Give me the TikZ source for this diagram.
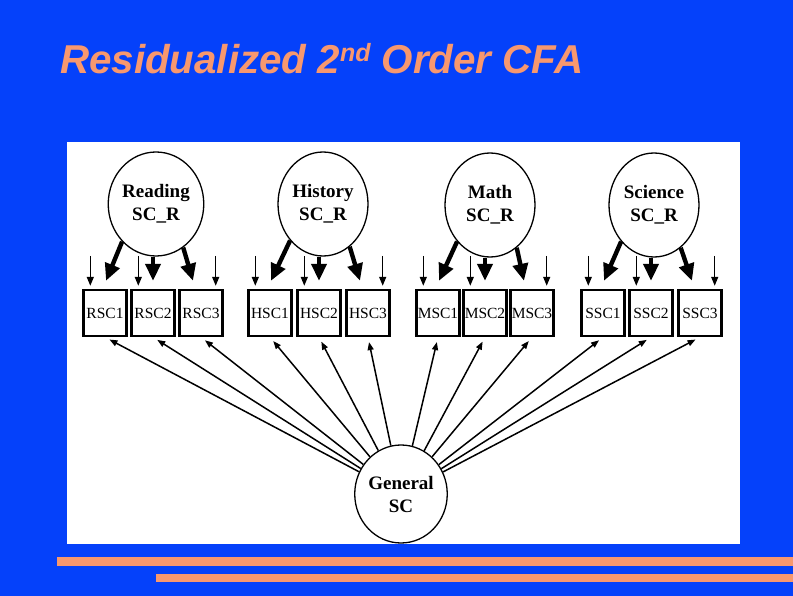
\documentclass[tikz,border=0pt]{standalone}
\usepackage{fontspec}
\setmainfont{Liberation Serif}
\newfontfamily\titlefont{Liberation Sans}
\usetikzlibrary{arrows.meta,shapes.geometric}
\definecolor{slideblue}{RGB}{5,65,250}
\definecolor{salmon}{RGB}{248,152,110}

\begin{document}
\begin{tikzpicture}[x = {(1pt, 0pt)}, y = {(0pt, -1pt)},
  factor/.style = {draw, ellipse, line width=1.3pt, minimum width=90pt,
    minimum height=104pt, inner sep=0pt, align=center,
    font=\fontsize{19}{23}\selectfont\bfseries},
  indicator/.style = {draw, rectangle, line width=2.4pt, minimum width=43pt,
    minimum height=46pt, inner sep=0pt, font=\fontsize{15.5}{15.5}\selectfont},
  loading/.style = {-{Triangle[length=17pt, width=15pt]}, line width=4.4pt},
  residual/.style = {-{Triangle[length=9pt, width=7pt]}, line width=1.4pt,
    shorten >=3pt},
  gload/.style = {-{Triangle[length=8pt, width=6pt]}, line width=1.5pt,
    shorten >=5pt}]
  \fill[slideblue] (0, 0) rectangle (793, 596);
  \fill[white] (67, 142) rectangle (740, 544);
  \fill[salmon] (57, 557) rectangle (793, 566);
  \fill[salmon] (156, 574) rectangle (793, 582);

  \node[anchor=base west, inner sep=0pt, text=salmon,
    font=\titlefont\fontsize{40.3}{40.3}\selectfont\bfseries\itshape] (title)
    at (60, 74) {Residualized 2\raisebox{12.5pt}{\fontsize{25}{25}\selectfont nd} Order CFA};

  % first order factors
  \node[factor] (f1) at (156, 204) {Reading\\SC\_R};
  \node[factor] (f2) at (323, 204) {History\\SC\_R};
  \node[factor] (f3) at (490, 205) {Math\\SC\_R};
  \node[factor] (f4) at (654, 205) {Science\\SC\_R};

  % second order factor
  \node[factor, minimum width=91pt, minimum height=98pt] (g) at (401, 494) {General\\SC};

  % indicators
  \node[indicator] (b1) at (105, 313) {RSC1};
  \node[indicator] (b2) at (153, 313) {RSC2};
  \node[indicator] (b3) at (201, 313) {RSC3};

  \node[indicator] (b4) at (270, 313) {HSC1};
  \node[indicator] (b5) at (319, 313) {HSC2};
  \node[indicator] (b6) at (368, 313) {HSC3};

  \node[indicator] (b7) at (438, 313) {MSC1};
  \node[indicator] (b8) at (485, 313) {MSC2};
  \node[indicator] (b9) at (532, 313) {MSC3};

  \node[indicator] (b10) at (603, 313) {SSC1};
  \node[indicator] (b11) at (651, 313) {SSC2};
  \node[indicator] (b12) at (700, 313) {SSC3};

  % loadings
  \draw[loading] (f1.228) -- ([shift={(1, -8)}]b1.north);
  \draw[loading] (f1.south -| b2.north) -- ([yshift=8pt]b2.north);
  \draw[loading] (f1.302) -- ([shift={(-8, -8)}]b3.north);

  \draw[loading] (f2.228) -- ([shift={(1, -8)}]b4.north);
  \draw[loading] (f2.south -| b5.north) -- ([yshift=8pt]b5.north);
  \draw[loading] (f2.302) -- ([shift={(-8, -8)}]b6.north);

  \draw[loading] (f3.228) -- ([shift={(1, -8)}]b7.north);
  \draw[loading] (f3.south -| b8.north) -- ([yshift=8pt]b8.north);
  \draw[loading] (f3.302) -- ([shift={(-8, -8)}]b9.north);

  \draw[loading] (f4.228) -- ([shift={(1, -8)}]b10.north);
  \draw[loading] (f4.south -| b11.north) -- ([yshift=8pt]b11.north);
  \draw[loading] (f4.302) -- ([shift={(-8, -8)}]b12.north);

  % residuals
  \coordinate (e1) at ([shift={(8, -33)}]b1.north west);
  \coordinate (e2) at ([shift={(8, -33)}]b2.north west);
  \coordinate (e3) at ([shift={(-8, -33)}]b3.north east);
  \coordinate (e4) at ([shift={(8, -33)}]b4.north west);
  \coordinate (e5) at ([shift={(8, -33)}]b5.north west);
  \coordinate (e6) at ([shift={(-8, -33)}]b6.north east);
  \coordinate (e7) at ([shift={(8, -33)}]b7.north west);
  \coordinate (e8) at ([shift={(8, -33)}]b8.north west);
  \coordinate (e9) at ([shift={(-8, -33)}]b9.north east);
  \coordinate (e10) at ([shift={(8, -33)}]b10.north west);
  \coordinate (e11) at ([shift={(8, -33)}]b11.north west);
  \coordinate (e12) at ([shift={(-8, -33)}]b12.north east);

  \draw[residual] (e1) -- (e1 |- b1.north);
  \draw[residual] (e2) -- (e2 |- b2.north);
  \draw[residual] (e3) -- (e3 |- b3.north);
  \draw[residual] (e4) -- (e4 |- b4.north);
  \draw[residual] (e5) -- (e5 |- b5.north);
  \draw[residual] (e6) -- (e6 |- b6.north);
  \draw[residual] (e7) -- (e7 |- b7.north);
  \draw[residual] (e8) -- (e8 |- b8.north);
  \draw[residual] (e9) -- (e9 |- b9.north);
  \draw[residual] (e10) -- (e10 |- b10.north);
  \draw[residual] (e11) -- (e11 |- b11.north);
  \draw[residual] (e12) -- (e12 |- b12.north);

  % second order loadings
  \draw[gload] (g) -- (b1.south);
  \draw[gload] (g) -- (b2.south);
  \draw[gload] (g) -- (b3.south);
  \draw[gload] (g) -- (b4.south);
  \draw[gload] (g) -- (b5.south);
  \draw[gload] (g) -- (b6.south);
  \draw[gload] (g) -- (b7.south);
  \draw[gload] (g) -- (b8.south);
  \draw[gload] (g) -- (b9.south);
  \draw[gload] (g) -- (b10.south);
  \draw[gload] (g) -- (b11.south);
  \draw[gload] (g) -- (b12.south);
\end{tikzpicture}
\end{document}
